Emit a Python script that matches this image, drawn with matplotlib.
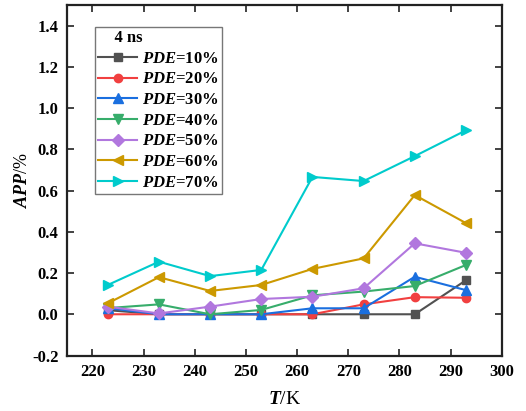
import matplotlib
matplotlib.use("Agg")
import matplotlib.pyplot as plt

plt.rcParams['font.family'] = ['Liberation Serif', 'DejaVu Serif']
plt.rcParams['font.weight'] = 'bold'
plt.rcParams['mathtext.fontset'] = 'custom'
plt.rcParams['mathtext.rm'] = 'Liberation Serif:bold'
plt.rcParams['mathtext.it'] = 'Liberation Serif:italic:bold'
plt.rcParams['mathtext.bf'] = 'Liberation Serif:bold'

T = [223, 233, 243, 253, 263, 273, 283, 293]
pde10 = [0.02, 0.0, 0.0, 0.0, 0.0, 0.0, 0.0, 0.165]
pde20 = [0.0, 0.0, 0.0, 0.0, 0.0, 0.048, 0.083, 0.08]
pde30 = [0.03, 0.0, 0.0, 0.0, 0.029, 0.029, 0.182, 0.117]
pde40 = [0.03, 0.048, 0.0, 0.021, 0.092, 0.11, 0.137, 0.239]
pde50 = [0.037, 0.004, 0.037, 0.074, 0.085, 0.126, 0.344, 0.298]
pde60 = [0.053, 0.18, 0.113, 0.142, 0.22, 0.271, 0.578, 0.442]
pde70 = [0.142, 0.255, 0.185, 0.215, 0.666, 0.646, 0.767, 0.892]

series = [pde10, pde20, pde30, pde40, pde50, pde60, pde70]
labels = [r"$\mathit{PDE}$=10%", r"$\mathit{PDE}$=20%", r"$\mathit{PDE}$=30%",
          r"$\mathit{PDE}$=40%", r"$\mathit{PDE}$=50%", r"$\mathit{PDE}$=60%",
          r"$\mathit{PDE}$=70%"]
colors = ['#515151', '#F14040', '#1A6FDF', '#37AD6B', '#B177DE', '#CC9900', '#00CBCC']
markers = ['s', 'o', '^', 'v', 'D', '<', '>']
msizes = [5.5, 6, 6.5, 6.5, 6, 6.5, 6.5]
xticks = [220, 230, 240, 250, 260, 270, 280, 290, 300]
yticks = [-0.2, 0.0, 0.2, 0.4, 0.6, 0.8, 1.0, 1.2, 1.4]

fig = plt.figure(figsize=(5.26, 4.11), dpi=100)
ax = fig.add_axes([0.127, 0.135, 0.827, 0.853])

for ys, lab, c, m, ms in zip(series, labels, colors, markers, msizes):
    ax.plot(T, ys, color=c, marker=m, markersize=ms, linewidth=1.5, label=lab)

ax.set_xlim(215, 300)
ax.set_ylim(-0.2, 1.5)
ax.set_xticks(xticks)
ax.set_yticks(yticks)
ax.set_yticklabels([f"{v:.1f}" for v in yticks])
ax.tick_params(direction='in', top=True, right=True, length=5, width=1.2,
               labelsize=12, pad=6, color='#222222')
for s in ax.spines.values():
    s.set_linewidth(1.6)
    s.set_color('#222222')

ax.set_xlabel(r"$\mathit{T}$/K", fontsize=14, labelpad=8)
ax.set_ylabel(r"$\mathit{APP}$/%", fontsize=13, labelpad=1)

leg = ax.legend(loc='upper left', bbox_to_anchor=(0.065, 0.938), title='    4 ns',
                fontsize=12, title_fontproperties={'weight': 'bold', 'size': 12},
                frameon=True, fancybox=False, edgecolor='#555555',
                handlelength=2.3, handletextpad=0.3, labelspacing=0.28,
                borderpad=0.2, borderaxespad=0)
leg.get_frame().set_linewidth(1.0)
leg._legend_box.align = "left"

fig.savefig("out.png", dpi=100)
